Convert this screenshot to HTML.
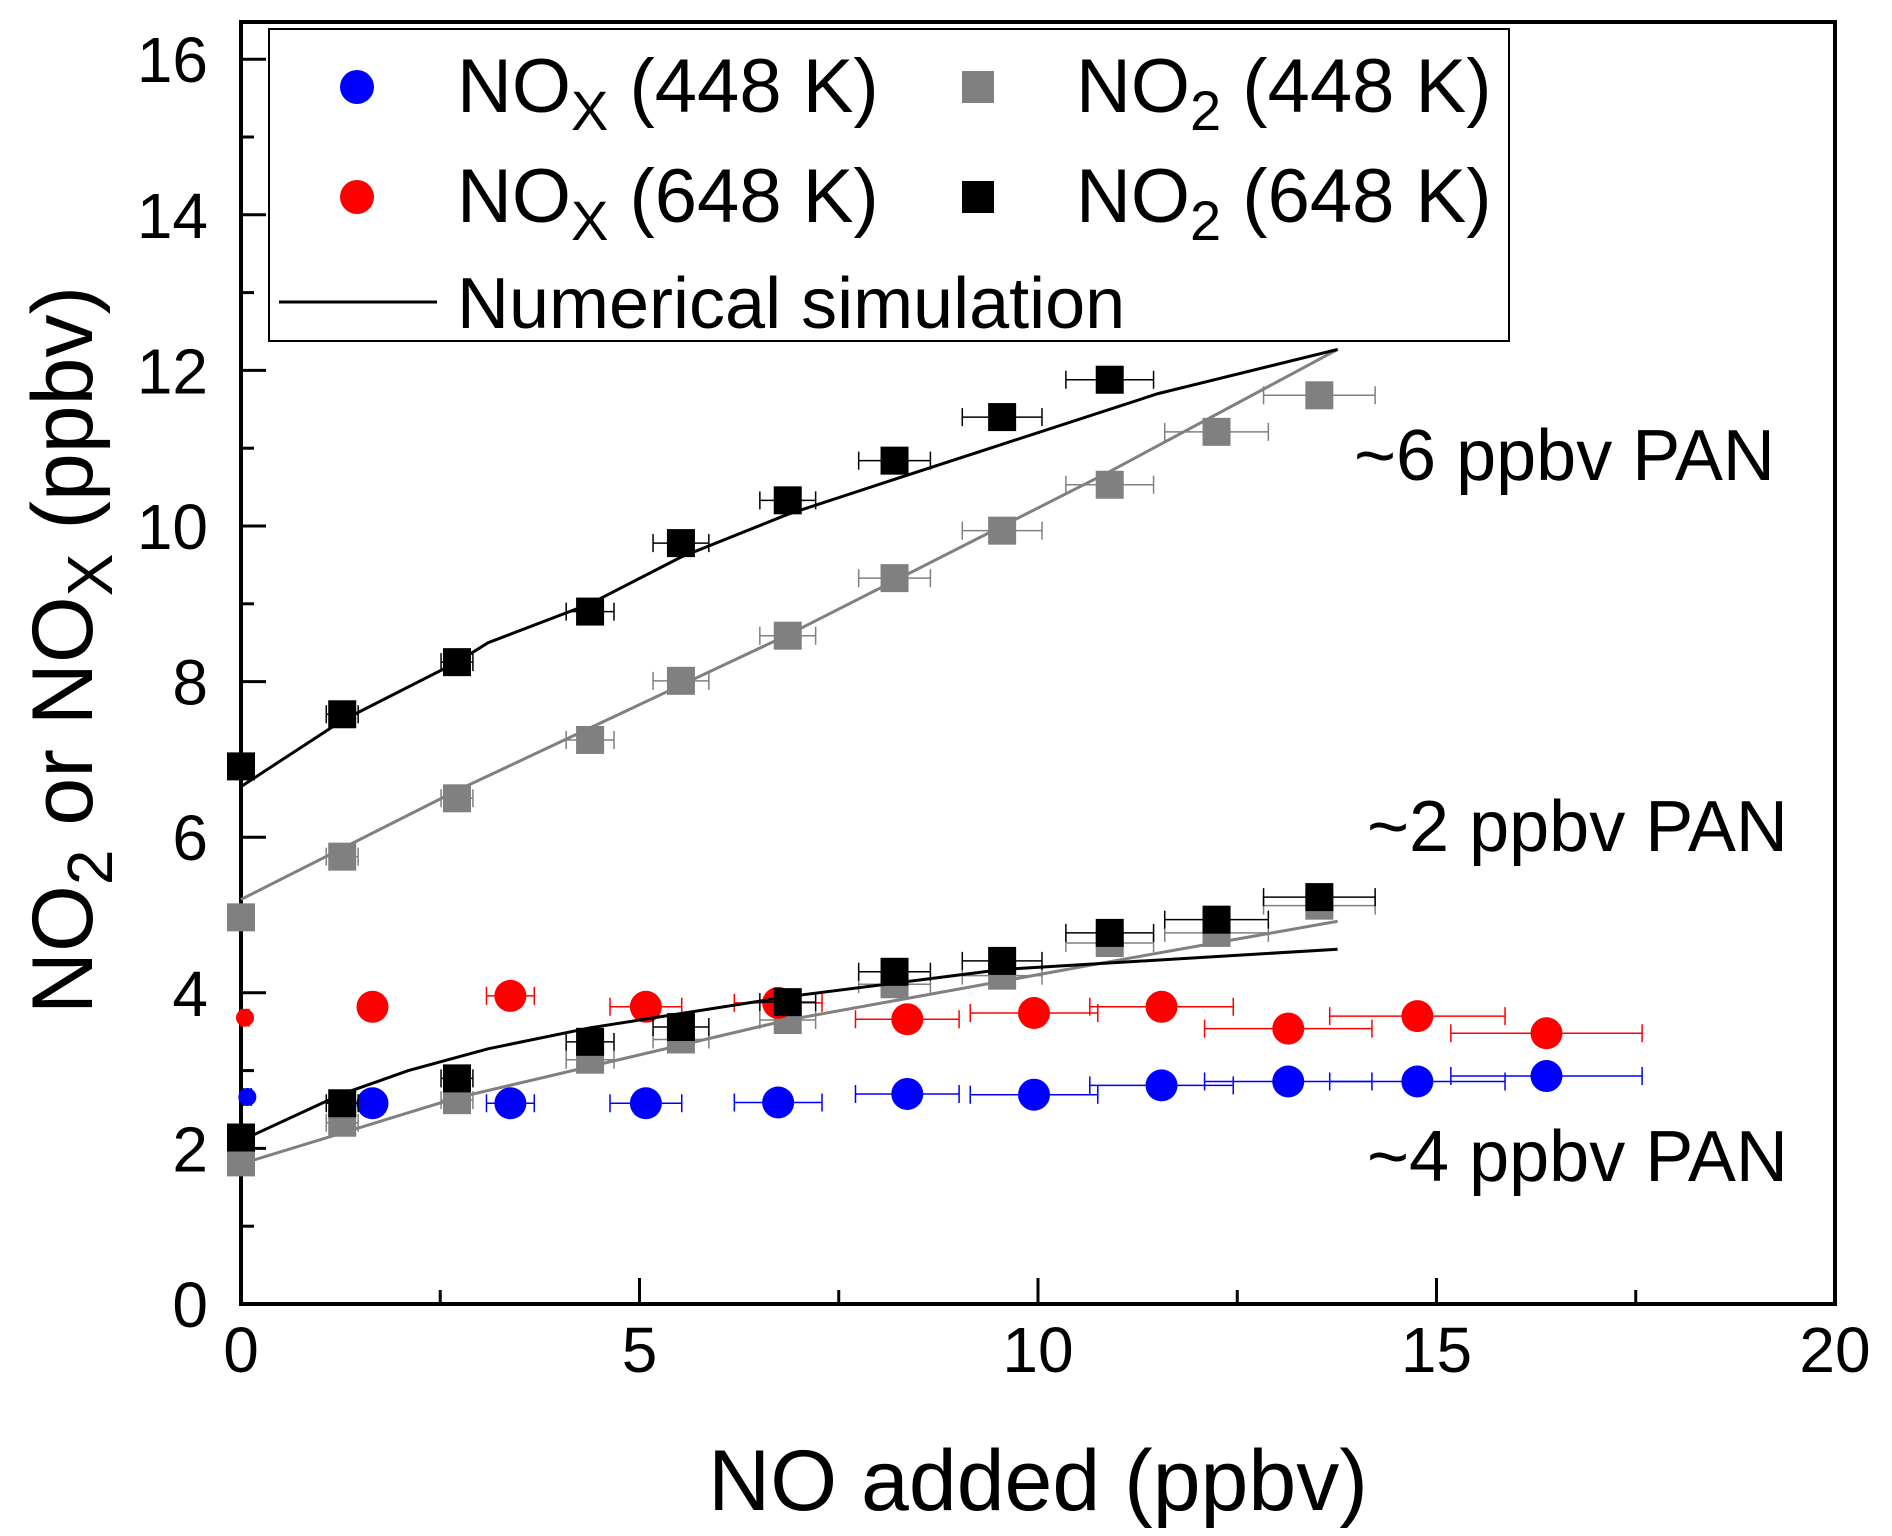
<!DOCTYPE html>
<html><head><meta charset="utf-8"><style>
html,body{margin:0;padding:0;background:#fff}
svg{display:block;font-family:"Liberation Sans",Arial,sans-serif}
</style></head><body>
<svg id="chart" width="1892" height="1536" viewBox="0 0 1892 1536" xmlns="http://www.w3.org/2000/svg">
<g id="axes"></g>
<g id="series"></g>
<g id="legend">
<rect x="269" y="29" width="1240" height="312" fill="#fff" stroke="#000" stroke-width="2"/>
<circle cx="357" cy="87" r="17" fill="#0000ff"/>
<text x="457" y="112" font-size="76">NO<tspan font-size="56" dy="18">X</tspan><tspan dy="-18"> (448 K)</tspan></text>
<rect x="962" y="71" width="32" height="32" fill="#808080"/>
<text x="1076" y="112" font-size="76">NO<tspan font-size="56" dy="18">2</tspan><tspan dy="-18"> (448 K)</tspan></text>
<circle cx="357" cy="197" r="17" fill="#ff0000"/>
<text x="457" y="222" font-size="76">NO<tspan font-size="56" dy="18">X</tspan><tspan dy="-18"> (648 K)</tspan></text>
<rect x="962" y="181" width="32" height="32" fill="#000"/>
<text x="1076" y="222" font-size="76">NO<tspan font-size="56" dy="18">2</tspan><tspan dy="-18"> (648 K)</tspan></text>
<line x1="279" y1="302" x2="437" y2="302" stroke="#000" stroke-width="3"/>
<text x="457" y="328" font-size="72">Numerical simulation</text>
</g>
<text x="1354" y="480" font-size="72">~6 ppbv PAN</text>
<text x="1367" y="851" font-size="72">~2 ppbv PAN</text>
<text x="1367" y="1181" font-size="72">~4 ppbv PAN</text>
<text x="1038" y="1510" font-size="86" text-anchor="middle">NO added (ppbv)</text>
<text transform="translate(92,650) rotate(-90)" font-size="86" text-anchor="middle">NO<tspan font-size="64" dy="20">2</tspan><tspan dy="-20"> or NO</tspan><tspan font-size="64" dy="20">X</tspan><tspan dy="-20"> (ppbv)</tspan></text>
</svg>
<script>
const xTicks = [0, 5, 10, 15, 20];
const yTicks = [0, 2, 4, 6, 8, 10, 12, 14, 16];
// NO2 648 K, ~6 ppbv PAN
const bHighX = [0, 1.27, 2.71, 4.38, 5.52, 6.86, 8.2, 9.55, 10.9];
const bHighY = [6.91, 7.58, 8.25, 8.9, 9.78, 10.33, 10.84, 11.4, 11.88];
const bHighErr = [0.1, 0.2, 0.2, 0.3, 0.35, 0.35, 0.45, 0.5, 0.55];
// NO2 448 K, ~6 ppbv PAN
const gHighX = [0, 1.27, 2.71, 4.38, 5.52, 6.86, 8.2, 9.55, 10.9, 12.24, 13.53];
const gHighY = [4.97, 5.75, 6.5, 7.25, 8.01, 8.59, 9.33, 9.94, 10.53, 11.21, 11.68];
const gHighErr = [0.1, 0.2, 0.2, 0.3, 0.35, 0.35, 0.45, 0.5, 0.55, 0.65, 0.7];
// NO2 648 K, ~2 ppbv PAN
const bLowX = [0, 1.27, 2.71, 4.38, 5.52, 6.86, 8.2, 9.55, 10.9, 12.24, 13.53];
const bLowY = [2.14, 2.58, 2.9, 3.37, 3.56, 3.88, 4.27, 4.41, 4.77, 4.94, 5.23];
const bLowErr = [0.1, 0.2, 0.2, 0.3, 0.35, 0.35, 0.45, 0.5, 0.55, 0.65, 0.7];
// NO2 448 K, ~2 ppbv PAN
const gLowX = [0, 1.27, 2.71, 4.38, 5.52, 6.86, 8.2, 9.55, 10.9, 12.24, 13.53];
const gLowY = [1.82, 2.33, 2.62, 3.14, 3.4, 3.65, 4.11, 4.22, 4.64, 4.77, 5.12];
// NOx 648 K
const redX = [0.05, 1.65, 3.38, 5.08, 6.74, 8.36, 9.95, 11.55, 13.14, 14.76, 16.38];
const redY = [3.68, 3.82, 3.96, 3.82, 3.87, 3.66, 3.74, 3.82, 3.54, 3.7, 3.48];
// NOx 448 K
const blueX = [0.08, 1.65, 3.38, 5.08, 6.74, 8.36, 9.95, 11.55, 13.14, 14.76, 16.38];
const blueY = [2.66, 2.58, 2.58, 2.58, 2.59, 2.7, 2.69, 2.81, 2.86, 2.86, 2.93];
const noxErr = [0.05, 0.15, 0.3, 0.45, 0.55, 0.65, 0.8, 0.9, 1.05, 1.1, 1.2];
// simulations
const simBHighX = [0, 1.27, 2.71, 3.1, 4.38, 5.52, 6.86, 8.2, 9.55, 11.5, 13.76];
const simBHighY = [6.65, 7.5, 8.25, 8.5, 9.0, 9.6, 10.15, 10.6, 11.05, 11.7, 12.27];
const simGHighX = [0, 2.71, 6.86, 10.9, 13.76];
const simGHighY = [5.2, 6.6, 8.6, 10.7, 12.27];
const simBLowX = [0, 1.27, 2.1, 3.1, 4.38, 6.86, 9.55, 13.76];
const simBLowY = [2.1, 2.7, 3.0, 3.28, 3.55, 3.95, 4.3, 4.56];
const simGLowX = [0, 2.71, 6.86, 10.9, 13.76];
const simGLowY = [1.8, 2.65, 3.65, 4.4, 4.92];

const NS = "http://www.w3.org/2000/svg";
const X0 = 241, X1 = 1835, Y0 = 1304, YT = 22;
const sx = v => X0 + v * (X1 - X0) / 20;
const sy = v => Y0 - v * 77.8;
function mk(tag, attrs, parent) {
  const e = document.createElementNS(NS, tag);
  for (const k in attrs) e.setAttribute(k, attrs[k]);
  parent.appendChild(e);
  return e;
}
const axes = document.getElementById('axes');
const ser = document.getElementById('series');
let e;
e = mk('rect', {x: X0, y: YT, width: X1 - X0, height: Y0 - YT, fill: 'none', stroke: '#000', 'stroke-width': 4}, axes);


for (let v = 0; v <= 20; v += 2.5) {
  const major = v % 5 === 0;
  e = mk('line', {x1: sx(v), x2: sx(v), y1: Y0, y2: Y0 - (major ? 26 : 14), stroke: '#000', 'stroke-width': 3}, axes);
  
  
}
xTicks.forEach(v => {
  e = mk('text', {x: sx(v), y: 1372, 'font-size': 64, 'text-anchor': 'middle'}, axes);
  e.textContent = v;
  
  
});
for (let v = 0; v <= 16; v += 1) {
  const major = v % 2 === 0;
  e = mk('line', {x1: X0, x2: X0 + (major ? 25 : 13), y1: sy(v), y2: sy(v), stroke: '#000', 'stroke-width': 3}, axes);
  
  
}
yTicks.forEach(v => {
  e = mk('text', {x: 208, y: sy(v) + 23, 'font-size': 64, 'text-anchor': 'end'}, axes);
  e.textContent = v;
  
  
});
function line(xs, ys, color, name) {
  const d = xs.map((x, i) => (i ? 'L' : 'M') + sx(x) + ',' + sy(ys[i])).join('');
  const p = mk('path', {d: d, fill: 'none', stroke: color, 'stroke-width': 3}, ser);
  
  
}
function errs(xs, ys, er, color, name) {
  xs.forEach((x, i) => {
    const y = sy(ys[i]);
    const a = sx(x - er[i]), b = sx(x + er[i]);
    const g = mk('path', {d: `M${a},${y}H${b}M${a},${y - 9}V${y + 9}M${b},${y - 9}V${y + 9}`, stroke: color, 'stroke-width': 1.5, fill: 'none'}, ser);
    
    
  });
}
function squares(xs, ys, color, name) {
  xs.forEach((x, i) => {
    const r = mk('rect', {x: sx(x) - 14, y: sy(ys[i]) - 14, width: 28, height: 28, fill: color}, ser);
    
    
  });
}
function circles(xs, ys, color, name) {
  xs.forEach((x, i) => {
    const c = mk('circle', {cx: sx(x), cy: sy(ys[i]), r: i === 0 ? 9 : 16, fill: color}, ser);
    
    
  });
}
errs(gHighX, gHighY, gHighErr, '#808080', 'xerr-no2-448-high');
errs(gLowX, gLowY, bLowErr, '#808080', 'xerr-no2-448-low');
errs(redX, redY, noxErr, '#ff0000', 'xerr-nox-648');
errs(blueX, blueY, noxErr, '#0000ff', 'xerr-nox-448');
squares(gHighX, gHighY, '#808080', 'point-no2-448-high');
squares(gLowX, gLowY, '#808080', 'point-no2-448-low');
circles(redX, redY, '#ff0000', 'point-nox-648');
circles(blueX, blueY, '#0000ff', 'point-nox-448');
line(simGHighX, simGHighY, '#808080', 'sim-no2-448-high');
line(simGLowX, simGLowY, '#808080', 'sim-no2-448-low');
line(simBHighX, simBHighY, '#000', 'sim-no2-648-high');
line(simBLowX, simBLowY, '#000', 'sim-no2-648-low');
errs(bHighX, bHighY, bHighErr, '#000', 'xerr-no2-648-high');
errs(bLowX, bLowY, bLowErr, '#000', 'xerr-no2-648-low');
squares(bHighX, bHighY, '#000', 'point-no2-648-high');
squares(bLowX, bLowY, '#000', 'point-no2-648-low');
</script>
</body></html>
